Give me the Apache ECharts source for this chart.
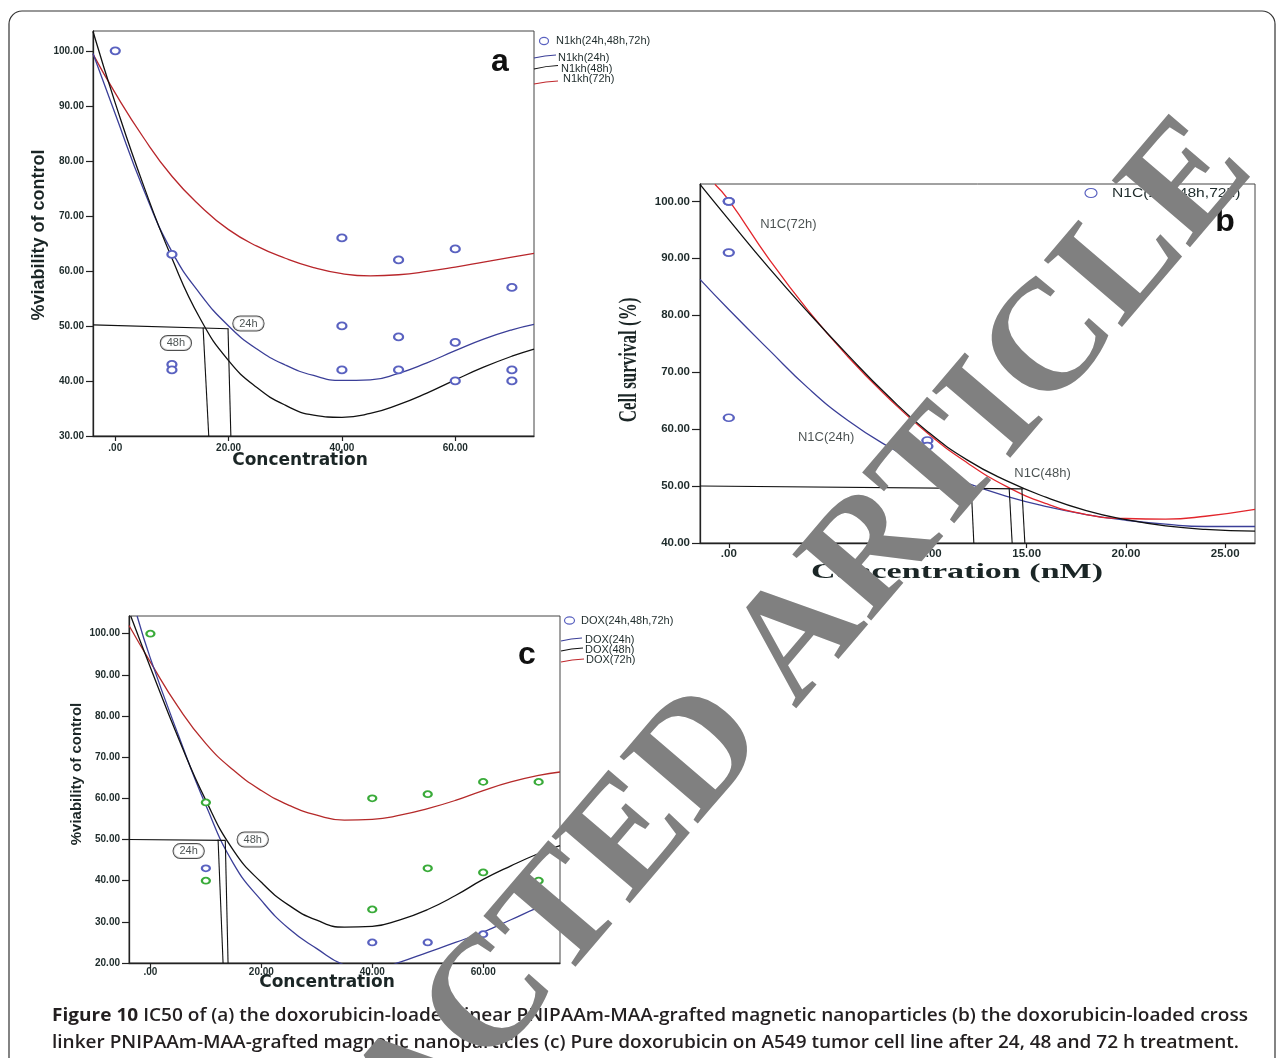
<!DOCTYPE html>
<html><head><meta charset="utf-8">
<script src="https://cdn.jsdelivr.net/npm/echarts@6/dist/echarts.min.js"></script>
<style>html,body{margin:0;padding:0;background:#fff}#c{width:1282px;height:1058px}</style>
</head><body><div id="c"></div>
<script>
// ---------- Panel a : N1kh ----------
const aTicksX = [0, 20, 40, 60];
const aTicksY = [30, 40, 50, 60, 70, 80, 90, 100];
const aPoints = [[0,100],[10,63],[10,43],[10,42],[40,66],[40,50],[40,42],[50,62],[50,48],[50,42],[60,64],[60,47],[60,40],[70,57],[70,42],[70,40]];
const aCurveX  = [-3.93, 0, 5, 10, 15, 20, 25, 30, 35, 40, 45, 50, 55, 60, 65, 70, 73.9];
const aCurve24 = [99.5, 88.5, 74.8, 63.5, 55.8, 50.0, 45.8, 42.9, 41.0, 40.1, 40.2, 41.4, 43.3, 45.5, 47.6, 49.3, 50.3];
const aCurve48 = [103.5, 90.5, 75.5, 62.3, 51.3, 43.7, 38.8, 35.6, 33.8, 33.4, 34.1, 35.7, 37.8, 40.2, 42.5, 44.5, 45.8];
const aCurve72 = [99.4, 92.3, 84.2, 77.2, 71.8, 67.5, 64.5, 62.3, 60.6, 59.5, 59.1, 59.3, 59.9, 60.7, 61.6, 62.5, 63.2];
const aIcH   = [[-3.93, 50.2], [20.0, 49.5]];
const aIcV48 = [[15.5, 49.7], [16.5, 30]];
const aIcV24 = [[19.9, 49.5], [20.4, 30]];
const aTags  = [[23.5, 50.45, '24h'], [10.7, 46.9, '48h']];

// ---------- Panel b : N1C ----------
const bTicksX = [0, 5, 10, 15, 20, 25];
const bTicksY = [40, 50, 60, 70, 80, 90, 100];
const bPoints = [[0,100],[0,100],[0,91],[0,62],[10,58],[10,57]];
const bCurveX   = [-1.45, 0, 2, 4, 6, 8, 10, 12, 14, 16, 18, 20, 22, 24, 26.5];
const bCurve24  = [86.3, 81.0, 74.0, 67.2, 61.5, 57.0, 53.4, 50.5, 48.2, 46.4, 45.0, 44.0, 43.3, 42.9, 42.9];
const bCurve48  = [103.0, 96.8, 88.4, 80.5, 73.0, 65.9, 59.6, 54.6, 50.9, 48.0, 45.7, 44.1, 43.0, 42.4, 42.1];
const bCurveX72 = [-0.7, 0, 2, 4, 6, 8, 10, 12, 14, 16, 18, 20, 22, 24, 26.5];
const bCurve72  = [103.0, 100.2, 90.0, 80.8, 72.7, 65.6, 59.3, 54.1, 49.9, 46.9, 45.0, 44.3, 44.2, 44.7, 45.9];
const bIcH   = [[-1.45, 50.0], [14.83, 49.5]];
const bIcV24 = [[12.21, 49.6], [12.34, 40]];
const bIcV72 = [[14.12, 49.6], [14.27, 40]];
const bIcV48 = [[14.76, 49.5], [14.91, 40]];
const bTags  = [[3.0, 95.9, 'N1C(72h)'], [4.9, 58.5, 'N1C(24h)'], [15.8, 52.3, 'N1C(48h)']];

// ---------- Panel c : DOX ----------
const cTicksX = [0, 20, 40, 60];
const cTicksY = [20, 30, 40, 50, 60, 70, 80, 90, 100];
const cPointsGreen = [[0,100],[10,59],[10,40],[40,60],[40,33],[50,61],[50,43],[60,64],[60,42],[70,64],[70,40]];
const cPointsBlue  = [[10,43],[40,25],[50,25],[60,27],[70,34]];
const cCurveX24 = [-2.4, 0, 5, 10, 15, 20, 25, 30, 35, 40, 45, 50, 55, 60, 65, 70, 73.85];
const cCurve24  = [104.3, 94.0, 75.5, 58.3, 44.1, 35.2, 28.3, 23.5, 19.5, 18.3, 20.2, 22.6, 25.0, 27.5, 30.5, 33.5, 35.3];
const cCurveX48 = [-3.55, 0, 5, 10, 15, 20, 25, 30, 35, 40, 45, 50, 55, 60, 65, 70, 73.85];
const cCurve48  = [104.3, 91.8, 74.8, 59.5, 47.3, 39.6, 34.0, 30.4, 28.7, 28.9, 30.5, 33.0, 36.4, 40.3, 43.6, 46.6, 48.5];
const cCurveX72 = [-3.86, 0, 5, 10, 15, 20, 25, 30, 35, 40, 45, 50, 55, 60, 65, 70, 73.85];
const cCurve72  = [102.0, 93.1, 82.2, 73.3, 66.8, 61.9, 58.3, 55.9, 54.7, 54.9, 55.9, 57.5, 59.5, 61.9, 64.0, 65.6, 66.4];
const cIcH   = [[-3.86, 50.0], [13.5, 49.8]];
const cIcV24 = [[12.2, 50.0], [13.1, 20]];
const cIcV48 = [[13.5, 49.8], [14.0, 20]];
const cTags  = [[18.45, 50.0, '48h'], [6.9, 47.2, '24h']];

// ---------- texts ----------
const captionBold = 'Figure 10';
const captionLine1 = ' IC50 of (a) the doxorubicin-loaded linear PNIPAAm-MAA-grafted magnetic nanoparticles (b) the doxorubicin-loaded cross';
const captionLine2 = 'linker PNIPAAm-MAA-grafted magnetic nanoparticles (c) Pure doxorubicin on A549 tumor cell line after 24, 48 and 72 h treatment.';
const watermark = 'RETRACTED ARTICLE';

// ---------- helpers ----------
const zip = (xs, ys) => xs.map((x, i) => [x, ys[i]]);
const fmt = v => (v === 0 ? '.00' : v.toFixed(2));
const TXT = '#1e2b2b';
const BLUE_PT = '#5a62c0', GREEN_PT = '#3aab3a';
const BLUE_L = '#3b3f98', BLACK_L = '#111111';
const mctx = document.createElement('canvas').getContext('2d');
function measure(t, font) { mctx.font = font; return mctx.measureText(t).width; }

function xAxis(gi, min, max, ticks, fs, margin) {
  return { type: 'value', gridIndex: gi, min, max,
    axisLine: { show: true, onZero: false, lineStyle: { color: '#222', width: 1.3 } },
    axisTick: { show: true, length: 5, customValues: ticks, lineStyle: { color: '#222', width: 1.2 } },
    axisLabel: { customValues: ticks, formatter: fmt, fontSize: fs, color: TXT, fontFamily: 'Liberation Sans', fontWeight: 'bold', margin },
    splitLine: { show: false } };
}
function yAxis(gi, min, max, ticks, fs, tickLen, margin) {
  return { type: 'value', gridIndex: gi, min, max,
    axisLine: { show: true, onZero: false, lineStyle: { color: '#222', width: 1.3 } },
    axisTick: { show: true, length: tickLen, customValues: ticks, lineStyle: { color: '#222', width: 1.2 } },
    axisLabel: { customValues: ticks, formatter: fmt, fontSize: fs, color: TXT, fontFamily: 'Liberation Sans', fontWeight: 'bold', margin },
    splitLine: { show: false } };
}
function curve(gi, data, color, w) {
  return { type: 'line', xAxisIndex: gi, yAxisIndex: gi, data, smooth: true, symbol: 'none', showSymbol: false,
    lineStyle: { color, width: w || 1.3 }, z: 3, silent: true };
}
function drop(gi, data) {
  return { type: 'line', xAxisIndex: gi, yAxisIndex: gi, data, smooth: false, symbol: 'none', showSymbol: false,
    lineStyle: { color: '#111', width: 1.1 }, z: 4, silent: true };
}
function pts(gi, data, color, size) {
  return { type: 'scatter', xAxisIndex: gi, yAxisIndex: gi, data, symbol: 'emptyCircle', symbolSize: size,
    itemStyle: { color: color, borderColor: color, borderWidth: 1, opacity: 1 }, z: 5, silent: true };
}
function tags(gi, data, boxed, fs) {
  const label = { show: true, position: 'inside', formatter: p => p.value[2], fontSize: fs, color: '#1b2424',
    fontFamily: 'Liberation Sans' };
  if (boxed) Object.assign(label, { backgroundColor: '#fff', borderColor: '#222', borderWidth: 1, borderRadius: 8, padding: [2, 6, 1, 6] });
  return { type: 'scatter', xAxisIndex: gi, yAxisIndex: gi, data, symbol: 'circle', symbolSize: 1,
    itemStyle: { color: 'rgba(0,0,0,0)' }, label, z: 6, silent: true };
}

// caption scaling (condensed look)
const capFontB = 'bold 18.5px "Open Sans"', capFontN = '600 18.5px "Open Sans"';
const w1 = measure(captionBold, capFontB) + measure(captionLine1, capFontN);
const capScale = 1196 / w1;
const w2 = measure(captionLine2, capFontN);
const capScale2 = 1187 / w2;
const bXTitle = 'Concentration (nM)';
const bXScale = 292 / measure(bXTitle, 'bold 22px "Liberation Serif"');

const chart = echarts.init(document.getElementById('c'), null, { renderer: 'canvas' });
const option = {
  animation: false,
  backgroundColor: '#fff',
  grid: [
    { left: 93, top: 31, width: 441, height: 405, show: true, borderColor: '#444', borderWidth: 1 },
    { left: 700, top: 184, width: 555, height: 359, show: true, borderColor: '#444', borderWidth: 1 },
    { left: 129, top: 616, width: 431, height: 347, show: true, borderColor: '#444', borderWidth: 1 }
  ],
  xAxis: [
    xAxis(0, -3.93, 73.9, aTicksX, 10, 7),
    xAxis(1, -1.45, 26.5, bTicksX, 11.5, 5),
    xAxis(2, -3.86, 73.85, cTicksX, 10, 4)
  ],
  yAxis: [
    yAxis(0, 30, 103.6, aTicksY, 10, 7, 9),
    yAxis(1, 40, 103.05, bTicksY, 11.5, 8, 10),
    yAxis(2, 20, 104.3, cTicksY, 10, 7, 9)
  ],
  series: [
    // a
    curve(0, zip(aCurveX, aCurve72), '#b8262b'),
    curve(0, zip(aCurveX, aCurve24), BLUE_L),
    curve(0, zip(aCurveX, aCurve48), BLACK_L),
    drop(0, aIcH), drop(0, aIcV48), drop(0, aIcV24),
    pts(0, aPoints, BLUE_PT, [9, 7]),
    tags(0, aTags, true, 11),
    // b
    curve(1, zip(bCurveX, bCurve24), BLUE_L),
    curve(1, zip(bCurveX72, bCurve72), '#e2262c'),
    curve(1, zip(bCurveX, bCurve48), BLACK_L),
    drop(1, bIcH), drop(1, bIcV24), drop(1, bIcV72), drop(1, bIcV48),
    pts(1, bPoints, BLUE_PT, [10, 7]),
    tags(1, bTags, false, 13),
    // c
    curve(2, zip(cCurveX72, cCurve72), '#b52a2a'),
    curve(2, zip(cCurveX24, cCurve24), BLUE_L),
    curve(2, zip(cCurveX48, cCurve48), BLACK_L),
    drop(2, cIcH), drop(2, cIcV24), drop(2, cIcV48),
    pts(2, cPointsGreen, GREEN_PT, [8, 6]),
    pts(2, cPointsBlue, BLUE_PT, [8, 6]),
    tags(2, cTags, true, 11)
  ],
  graphic: [
    // outer frame
    { type: 'rect', z: 0, shape: { x: 9, y: 11, width: 1266, height: 1080, r: 13 }, style: { fill: 'none', stroke: '#333', lineWidth: 1.2 } },
    // panel letters
    { type: 'text', x: 500, y: 62, style: { text: 'a', font: 'bold 32px "Liberation Sans"', fill: '#111', align: 'center', verticalAlign: 'middle' } },
    { type: 'text', x: 1225, y: 222, style: { text: 'b', font: 'bold 32px "Liberation Sans"', fill: '#111', align: 'center', verticalAlign: 'middle' } },
    { type: 'text', x: 527, y: 655, style: { text: 'c', font: 'bold 32px "Liberation Sans"', fill: '#111', align: 'center', verticalAlign: 'middle' } },
    // axis titles
    { type: 'text', x: 39, y: 235, rotation: Math.PI / 2, style: { text: '%viability of control', font: 'bold 18px "Liberation Sans"', fill: '#1b2626', align: 'center', verticalAlign: 'middle' } },
    { type: 'text', x: 300, y: 461, style: { text: 'Concentration', font: 'bold 17px "DejaVu Sans"', fill: '#1b2626', align: 'center', verticalAlign: 'middle' } },
    { type: 'text', x: 630, y: 360, rotation: Math.PI / 2, scaleY: 1.45, style: { text: 'Cell survival (%)', font: 'bold 17px "Liberation Serif"', fill: '#1b2626', align: 'center', verticalAlign: 'middle' } },
    { type: 'text', x: 957, y: 572, scaleX: bXScale, style: { text: bXTitle, font: 'bold 22px "Liberation Serif"', fill: '#1b2626', align: 'center', verticalAlign: 'middle' } },
    { type: 'text', x: 77, y: 774, rotation: Math.PI / 2, style: { text: '%viability of control', font: 'bold 15px "Liberation Sans"', fill: '#1b2626', align: 'center', verticalAlign: 'middle' } },
    { type: 'text', x: 327, y: 983, style: { text: 'Concentration', font: 'bold 17px "DejaVu Sans"', fill: '#1b2626', align: 'center', verticalAlign: 'middle' } },
    // legend a
    { type: 'ellipse', shape: { cx: 544, cy: 41, rx: 4.5, ry: 3.6 }, style: { fill: 'none', stroke: BLUE_PT, lineWidth: 1.2 } },
    { type: 'text', x: 556, y: 41, style: { text: 'N1kh(24h,48h,72h)', font: '11px "Liberation Sans"', fill: TXT, align: 'left', verticalAlign: 'middle' } },
    { type: 'bezierCurve', shape: { x1: 534, y1: 58, x2: 556, y2: 55, cpx1: 545, cpy1: 55.5 }, style: { stroke: BLUE_L, lineWidth: 1.2, fill: 'none' } },
    { type: 'text', x: 558, y: 57.5, style: { text: 'N1kh(24h)', font: '11px "Liberation Sans"', fill: TXT, align: 'left', verticalAlign: 'middle' } },
    { type: 'bezierCurve', shape: { x1: 534, y1: 69, x2: 558, y2: 65.5, cpx1: 546, cpy1: 66 }, style: { stroke: BLACK_L, lineWidth: 1.2, fill: 'none' } },
    { type: 'text', x: 561, y: 68.5, style: { text: 'N1kh(48h)', font: '11px "Liberation Sans"', fill: TXT, align: 'left', verticalAlign: 'middle' } },
    { type: 'bezierCurve', shape: { x1: 534, y1: 84, x2: 558, y2: 81, cpx1: 546, cpy1: 81.5 }, style: { stroke: '#c0282d', lineWidth: 1.2, fill: 'none' } },
    { type: 'text', x: 563, y: 78.5, style: { text: 'N1kh(72h)', font: '11px "Liberation Sans"', fill: TXT, align: 'left', verticalAlign: 'middle' } },
    // legend b
    { type: 'ellipse', shape: { cx: 1091, cy: 193, rx: 6, ry: 4.5 }, style: { fill: 'none', stroke: BLUE_PT, lineWidth: 1.2 } },
    { type: 'text', x: 1112, y: 194, scaleX: 1.3, style: { text: 'N1C(24h,48h,72h)', font: '12px "Liberation Sans"', fill: TXT, align: 'left', verticalAlign: 'middle' } },
    // legend c
    { type: 'ellipse', shape: { cx: 569.5, cy: 620.5, rx: 5, ry: 3.6 }, style: { fill: 'none', stroke: BLUE_PT, lineWidth: 1.2 } },
    { type: 'text', x: 581, y: 620.5, style: { text: 'DOX(24h,48h,72h)', font: '11px "Liberation Sans"', fill: TXT, align: 'left', verticalAlign: 'middle' } },
    { type: 'bezierCurve', shape: { x1: 561, y1: 641, x2: 582, y2: 638, cpx1: 571, cpy1: 638.5 }, style: { stroke: BLUE_L, lineWidth: 1.2, fill: 'none' } },
    { type: 'text', x: 585, y: 639.5, style: { text: 'DOX(24h)', font: '11px "Liberation Sans"', fill: TXT, align: 'left', verticalAlign: 'middle' } },
    { type: 'bezierCurve', shape: { x1: 561, y1: 651, x2: 583, y2: 648, cpx1: 571, cpy1: 648.5 }, style: { stroke: BLACK_L, lineWidth: 1.2, fill: 'none' } },
    { type: 'text', x: 585, y: 649.5, style: { text: 'DOX(48h)', font: '11px "Liberation Sans"', fill: TXT, align: 'left', verticalAlign: 'middle' } },
    { type: 'bezierCurve', shape: { x1: 561, y1: 662, x2: 584, y2: 659, cpx1: 572, cpy1: 659.5 }, style: { stroke: '#c0282d', lineWidth: 1.2, fill: 'none' } },
    { type: 'text', x: 586, y: 660, style: { text: 'DOX(72h)', font: '11px "Liberation Sans"', fill: TXT, align: 'left', verticalAlign: 'middle' } },
    // caption
    { type: 'text', x: 52, y: 1016, scaleX: capScale, style: {
        text: '{b|' + captionBold + '}' + captionLine1, font: capFontN, fill: '#231f20', align: 'left', verticalAlign: 'middle',
        rich: { b: { font: capFontB, fill: '#231f20' } } } },
    { type: 'text', x: 52, y: 1043, scaleX: capScale2, style: { text: captionLine2, font: capFontN, fill: '#231f20', align: 'left', verticalAlign: 'middle' } },
    // watermark
    { type: 'text', z: 100, x: 662, y: 803, rotation: 49.5 * Math.PI / 180, style: { text: watermark, font: 'bold 157px "Liberation Serif"', fill: '#808080', align: 'center', verticalAlign: 'middle' } }
  ]
};
chart.setOption(option);
</script></body></html>
